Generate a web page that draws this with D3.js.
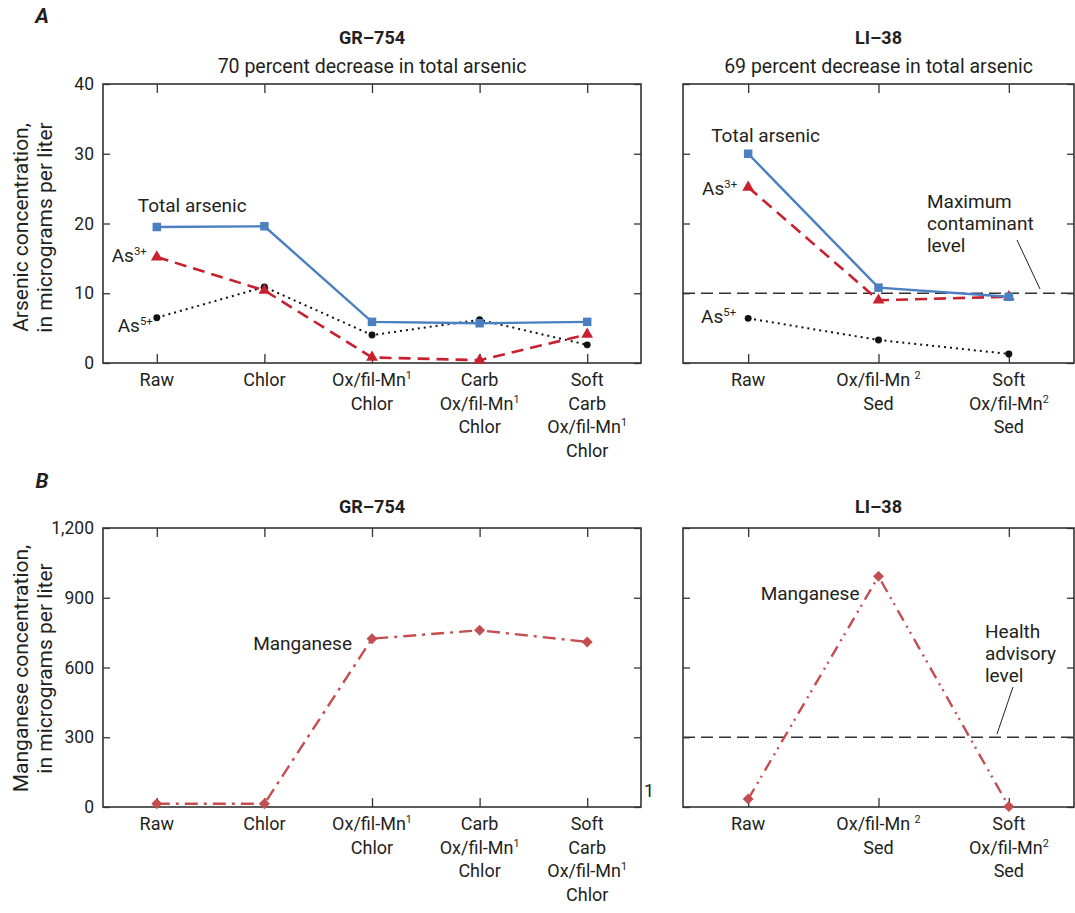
<!DOCTYPE html>
<html>
<head>
<meta charset="utf-8">
<script src="https://cdn.jsdelivr.net/npm/d3@7"></script>
<style>
  body { margin: 0; background: #fff; }
  svg { display: block; }
  .lbl { font-family: "Roboto", "Liberation Sans", sans-serif; fill: #231f20; }
</style>
</head>
<body>
<svg id="chart" width="1075" height="913"></svg>
<script>
// treatment steps, '|' = new line, '^' = superscript footnote
const grSteps = ['Raw', 'Chlor', 'Ox/fil-Mn^1|Chlor', 'Carb|Ox/fil-Mn^1|Chlor', 'Soft|Carb|Ox/fil-Mn^1|Chlor'];
const liSteps = ['Raw', 'Ox/fil-Mn ^2|Sed', 'Soft|Ox/fil-Mn^2|Sed'];

// arsenic, micrograms per liter
const grTotalAs = [19.5, 19.6, 5.9, 5.7, 5.9];
const grAs3 = [15.2, 10.4, 0.8, 0.4, 4.1];
const grAs5 = [6.5, 10.9, 4.0, 6.2, 2.6];
const liTotalAs = [30.0, 10.8, 9.5];
const liAs3 = [25.2, 9.0, 9.5];
const liAs5 = [6.4, 3.3, 1.3];

// manganese, micrograms per liter
const grMn = [14, 14, 724, 760, 710];
const liMn = [34, 992, 2];

const arsenicTicks = [0, 10, 20, 30, 40];
const manganeseTicks = [0, 300, 600, 900, 1200];
const arsenicMCL = 10;
const manganeseHAL = 300;

const svg = d3.select('#chart');

const leftX = [103, 641];
const rightX = [683, 1074];
const rowA = [84, 363];
const rowB = [528, 807];

const blue = '#4a7fc1';
const red = '#c8202f';
const mnRed = '#c44d4f';
const frame = '#333';

function writeLabel(sel, label, x, y, size, anchor, lineGap) {
  const lines = label.split('|');
  lines.forEach((line, i) => {
    const t = sel.append('text')
      .attr('class', 'lbl')
      .attr('x', x)
      .attr('y', y + i * (lineGap || 23.5))
      .attr('text-anchor', anchor || 'middle')
      .style('font-size', size + 'px');
    const parts = line.split('^');
    t.append('tspan').text(parts[0]);
    if (parts.length > 1) {
      t.append('tspan').attr('dy', -7).style('font-size', (size * 0.6) + 'px').text(parts[1]);
    }
  });
}

function makePanel(xRange, yRange, steps, domainMax, ticks, showLabels) {
  const x = d3.scalePoint().domain(steps).range(xRange).padding(0.5);
  const y = d3.scaleLinear().domain([0, domainMax]).range([yRange[1], yRange[0]]);
  const g = svg.append('g');

  g.append('g')
    .attr('transform', `translate(0,${yRange[1]})`)
    .call(d3.axisBottom(x).tickSize(-9).tickFormat(''))
    .call(a => a.select('.domain').remove());
  g.append('g')
    .attr('transform', `translate(0,${yRange[0]})`)
    .call(d3.axisTop(x).tickSize(-9).tickFormat(''))
    .call(a => a.select('.domain').remove());
  g.append('g')
    .attr('transform', `translate(${xRange[0]},0)`)
    .call(d3.axisLeft(y).tickValues(ticks).tickSize(-7).tickPadding(9)
      .tickFormat(showLabels ? d3.format(',') : ''))
    .call(a => a.select('.domain').remove())
    .call(a => a.selectAll('text').attr('class', 'lbl').style('font-size', '17.5px'));
  g.append('g')
    .attr('transform', `translate(${xRange[1]},0)`)
    .call(d3.axisRight(y).tickValues(ticks).tickSize(-7).tickFormat(''))
    .call(a => a.select('.domain').remove());
  g.selectAll('.tick line').attr('stroke', frame).attr('stroke-width', 1.3);

  g.append('rect')
    .attr('x', xRange[0]).attr('y', yRange[0])
    .attr('width', xRange[1] - xRange[0]).attr('height', yRange[1] - yRange[0])
    .attr('fill', 'none').attr('stroke', frame).attr('stroke-width', 1.6);

  steps.forEach(s => writeLabel(g, s, x(s), yRange[1] + 23, 18));
  return { x, y, g };
}

function drawSeries(p, steps, values, color, dash, width, symbol, size, rot) {
  const pts = steps.map((s, i) => [p.x(s), p.y(values[i])]);
  p.g.append('path')
    .attr('d', d3.line()(pts))
    .attr('fill', 'none')
    .attr('stroke', color)
    .attr('stroke-width', width)
    .attr('stroke-dasharray', dash);
  p.g.selectAll(null)
    .data(pts)
    .join('path')
    .attr('transform', d => `translate(${d[0]},${d[1]}) rotate(${rot || 0})`)
    .attr('d', d3.symbol(symbol, size)())
    .attr('fill', color);
}

function refLine(p, xRange, value) {
  p.g.append('line')
    .attr('x1', xRange[0]).attr('x2', xRange[1])
    .attr('y1', p.y(value)).attr('y2', p.y(value))
    .attr('stroke', '#333').attr('stroke-width', 1.4)
    .attr('stroke-dasharray', '12,6');
}

function note(p, str, x, y, anchor, gap) {
  writeLabel(p.g, str, x, y, 19, anchor || 'start', gap);
}

// ---- A, GR-754
const a1 = makePanel(leftX, rowA, grSteps, 40, arsenicTicks, true);
drawSeries(a1, grSteps, grAs5, '#111', '2,4', 2, d3.symbolCircle, 38);
drawSeries(a1, grSteps, grAs3, red, '12,7', 2.6, d3.symbolTriangle, 60);
drawSeries(a1, grSteps, grTotalAs, blue, null, 2.4, d3.symbolSquare, 72);
note(a1, 'Total arsenic', a1.x(grSteps[0]) - 19, a1.y(grTotalAs[0]) - 15);
note(a1, 'As^3+', a1.x(grSteps[0]) - 10, a1.y(grAs3[0]) + 5, 'end');
note(a1, 'As^5+', a1.x(grSteps[0]) - 4, a1.y(grAs5[0]) + 14, 'end');

// ---- A, LI-38
const a2 = makePanel(rightX, rowA, liSteps, 40, arsenicTicks, false);
refLine(a2, rightX, arsenicMCL);
drawSeries(a2, liSteps, liAs5, '#111', '2,4', 2, d3.symbolCircle, 38);
drawSeries(a2, liSteps, liAs3, red, '12,7', 2.6, d3.symbolTriangle, 60);
drawSeries(a2, liSteps, liTotalAs, blue, null, 2.4, d3.symbolSquare, 72);
note(a2, 'Total arsenic', a2.x(liSteps[0]) - 37, a2.y(liTotalAs[0]) - 12);
note(a2, 'As^3+', a2.x(liSteps[0]) - 11, a2.y(liAs3[0]) + 8, 'end');
note(a2, 'As^5+', a2.x(liSteps[0]) - 12, a2.y(liAs5[0]) + 5, 'end');
note(a2, 'Maximum|contaminant|level', 927, a2.y(arsenicMCL) - 85, 'start', 22);
a2.g.append('line').attr('x1', 1017).attr('y1', 240).attr('x2', 1040).attr('y2', 289)
  .attr('stroke', '#222').attr('stroke-width', 1);

// ---- B, GR-754
const b1 = makePanel(leftX, rowB, grSteps, 1200, manganeseTicks, true);
drawSeries(b1, grSteps, grMn, mnRed, '13,6,3,6', 2.4, d3.symbolSquare, 60, 45);
note(b1, 'Manganese', b1.x(grSteps[2]) - 20, b1.y(grMn[2]) + 11, 'end');

// ---- B, LI-38
const b2 = makePanel(rightX, rowB, liSteps, 1200, manganeseTicks, false);
refLine(b2, rightX, manganeseHAL);
drawSeries(b2, liSteps, liMn, mnRed, '12,6,2,5,2,6', 2.4, d3.symbolSquare, 60, 45);
note(b2, 'Manganese', b2.x(liSteps[1]) - 19, b2.y(liMn[1]) + 24, 'end');
note(b2, 'Health|advisory|level', 985, b2.y(manganeseHAL) - 99, 'start', 22);
b2.g.append('line').attr('x1', 1013).attr('y1', 687).attr('x2', 997).attr('y2', 734)
  .attr('stroke', '#222').attr('stroke-width', 1);

// stray footnote mark beside panel B
svg.append('text').attr('class', 'lbl').attr('x', 644).attr('y', 797)
  .style('font-size', '18px').text('1');

// titles
function title(txt, x, y, size, weight, style) {
  svg.append('text').attr('class', 'lbl')
    .attr('x', x).attr('y', y)
    .attr('text-anchor', 'middle')
    .style('font-size', size + 'px')
    .style('font-weight', weight || 'normal')
    .style('font-style', style || 'normal')
    .text(txt);
}
const midL = (leftX[0] + leftX[1]) / 2;
const midR = (rightX[0] + rightX[1]) / 2;
title('A', 42, 23, 21, 'bold', 'italic');
title('B', 42, 488, 21, 'bold', 'italic');
title('GR\u2013754', midL, 44, 18, 'bold');
title('70 percent decrease in total arsenic', midL, 73, 19.5);
title('LI\u201338', midR, 44, 18, 'bold');
title('69 percent decrease in total arsenic', midR, 73, 19.5);
title('GR\u2013754', midL, 513, 18, 'bold');
title('LI\u201338', midR, 513, 18, 'bold');

// y axis titles
function yTitle(lines, cy) {
  const t = svg.append('text').attr('class', 'lbl')
    .attr('transform', `translate(0,${cy}) rotate(-90)`)
    .attr('text-anchor', 'middle')
    .style('font-size', '21px');
  lines.forEach((l, i) => t.append('tspan').attr('x', 0).attr('y', 28 + i * 24).text(l));
}
yTitle(['Arsenic concentration,', 'in micrograms per liter'], (rowA[0] + rowA[1]) / 2 + 4);
yTitle(['Manganese concentration,', 'in micrograms per liter'], (rowB[0] + rowB[1]) / 2 + 1);
</script>
</body>
</html>
